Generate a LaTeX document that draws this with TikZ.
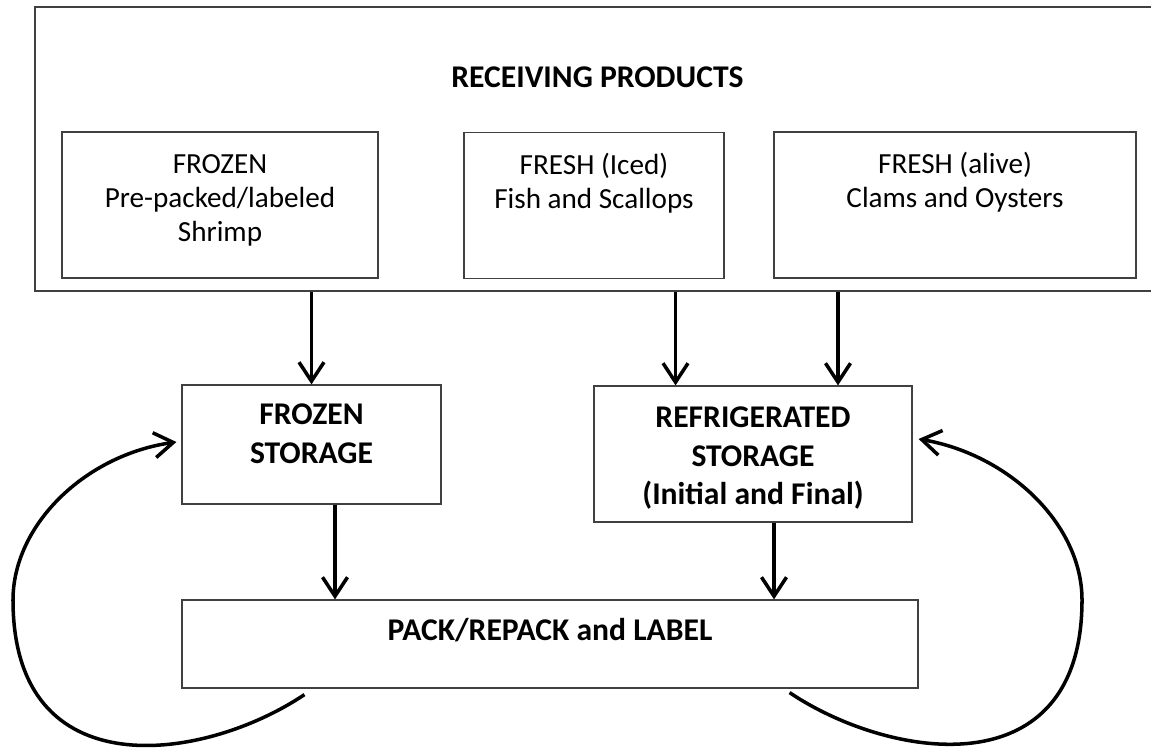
\documentclass[tikz,border=0pt]{standalone}
\usepackage{fontspec}
\setmainfont{Carlito}
\usetikzlibrary{arrows.meta,positioning}
\newcommand{\regfont}{\fontsize{16.6}{19.35}\selectfont}
\newcommand{\boldfont}{\fontsize{18}{21.9}\selectfont\bfseries}

\begin{document}
\begin{tikzpicture}[
    x=0.02cm, y=-0.02cm,
    >={Straight Barb[length=3.8mm,width=5mm]},
    box/.style={draw=black!75, line width=0.7pt, inner sep=0pt},
    txt/.style={font=\regfont, align=center, inner sep=0pt, anchor=north},
    btxt/.style={font=\boldfont, align=center, inner sep=0pt, anchor=north},
    flow/.style={->, line width=2pt},
  ]
  \useasboundingbox (0,0) rectangle (1151,749);

  % receiving area, its right side runs off the page
  \node[box, minimum width=22.5cm, minimum height=5.68cm] (recv) at (597.5,149) {};
  \node[btxt, below=1.08cm of recv.north] (recvt) {\strut RECEIVING PRODUCTS};

  \node[box, minimum width=6.32cm, minimum height=2.92cm] (frz) at (220,205) {};
  \node[txt, below=0.36cm of frz.north] (frzt) {\strut FROZEN\\Pre-packed/labeled\\Shrimp};
  \node[box, minimum width=5.2cm, minimum height=2.92cm] (ice) at (594,205.5) {};
  \node[txt, below=0.36cm of ice.north] (icet) {\strut FRESH (Iced)\\Fish and Scallops};
  \node[box, minimum width=7.24cm, minimum height=2.92cm] (alv) at (955,205) {};
  \node[txt, below=0.36cm of alv.north] (alvt) {\strut FRESH (alive)\\Clams and Oysters};

  % storage and packing
  \node[box, minimum width=5.18cm, minimum height=2.38cm] (fst) at (311.5,444.5) {};
  \node[btxt, below=0.26cm of fst.north] (fstt) {\strut FROZEN\\STORAGE};
  \node[box, minimum width=6.36cm, minimum height=2.72cm] (rst) at (753,454) {};
  \node[btxt, below=0.3cm of rst.north] (rstt) {\strut REFRIGERATED\\STORAGE\\(Initial and Final)};
  \node[box, minimum width=14.72cm, minimum height=1.76cm] (pack) at (550,644) {};
  \node[btxt, below=0.28cm of pack.north] (packt) {\strut PACK/REPACK and LABEL};

  \draw[flow] (fst.north |- recv.south) -- (fst.north);
  \draw[flow] ([xshift=-1.55cm]rst.north |- recv.south) -- ([xshift=-1.55cm]rst.north);
  \draw[flow] ([xshift=1.7cm]rst.north |- recv.south) -- ([xshift=1.7cm]rst.north);
  \draw[flow] ([xshift=0.47cm]fst.south) -- ([xshift=0.47cm]fst.south |- pack.north);
  \draw[flow] ([xshift=0.42cm]rst.south) -- ([xshift=0.42cm]rst.south |- pack.north);

  % return loops
  \draw[flow] ([xshift=2.46cm,yshift=-0.12cm]pack.south west)
    .. controls (204,762) and (13,790) .. (13,600)
    .. controls (13,525) and (85,455) .. ([xshift=-0.1cm,yshift=0.05cm]fst.west);
  \draw[flow] ([xshift=-2.58cm,yshift=-0.08cm]pack.south east)
    .. controls (890,760) and (1082,790) .. (1082,600)
    .. controls (1082,525) and (1010,455) .. ([xshift=0.12cm,yshift=0.3cm]rst.east);

\end{tikzpicture}
\end{document}
